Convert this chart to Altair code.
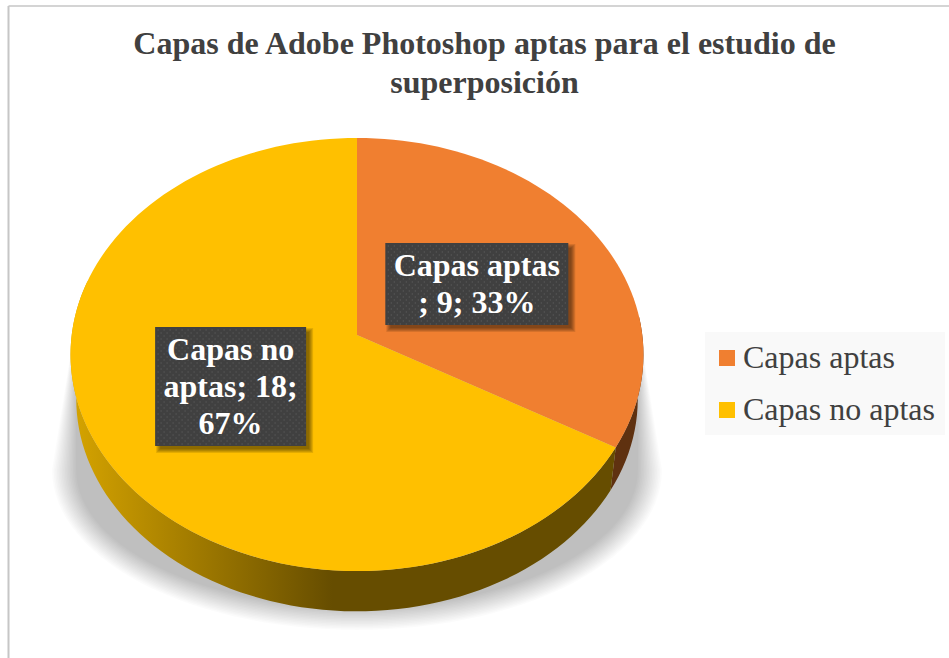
import math
import altair as alt
import pandas as pd

# Chart content
TITLE_LINES = ["Capas de Adobe Photoshop aptas para el estudio de", "superposición"]
CATEGORIES = ["Capas aptas", "Capas no aptas"]
VALUES = [9, 18]
PERCENTS = [33, 67]
LABEL_LINES = [["Capas aptas", "; 9; 33%"], ["Capas no", "aptas; 18;", "67%"]]
COLORS = ["#f07f30", "#ffc000"]

W, H = 949, 658

# Tilted-disc projection used for the pie surface and its lower rim
CX, CY = 357.0, 335.0
A, B, P = 285.3, 214.8, 0.0901
DEPTH = 45.0
RIM_SCALE = 0.98
LABEL_LINE_HEIGHT = 37


def project(angle, f=1.0, dy=0.0, s=1.0):
    """Clockwise angle from 12 o'clock and radius fraction to canvas units."""
    t = math.radians(angle)
    u, v = f * math.sin(t), -f * math.cos(t)
    w = 1 - P * v
    return CX + s * A * u / w, CY + dy + s * B * v / w


def arc_angles(a0, a1, step=2.0):
    n = max(2, int(abs(a1 - a0) / step))
    return [a0 + (a1 - a0) * k / n for k in range(n + 1)]


X = alt.X("x:Q", scale=alt.Scale(domain=[0, W], nice=False, zero=False), axis=None)
Y = alt.Y("y:Q", scale=alt.Scale(domain=[H, 0], nice=False, zero=False), axis=None)
X2, Y2 = alt.X2("x2:Q"), alt.Y2("y2:Q")

# Cumulative slice angles
total = sum(VALUES)
starts, running = [], 0.0
for v in VALUES:
    starts.append(running)
    running += 360.0 * v / total
ends = starts[1:] + [360.0]

# Top surface of each slice
rows = []
for cat, a0, a1 in zip(CATEGORIES, starts, ends):
    pts = [(CX, CY)] + [project(a) for a in arc_angles(a0, a1)]
    for i, (x, y) in enumerate(pts):
        rows.append({"cat": cat, "i": i, "x": x, "y": y})
slices = (
    alt.Chart(pd.DataFrame(rows))
    .mark_line(filled=True, strokeWidth=0, opacity=1)
    .encode(
        x=X,
        y=Y,
        order=alt.Order("i:Q"),
        color=alt.Color(
            "cat:N",
            scale=alt.Scale(domain=CATEGORIES, range=COLORS),
            legend=alt.Legend(
                title=None,
                orient="none",
                legendX=711,
                legendY=342,
                padding=0,
                symbolType="square",
                symbolSize=256,
                symbolStrokeWidth=0,
                symbolOpacity=1,
                labelFont="Liberation Serif",
                labelFontSize=32,
                labelColor="#404040",
                labelLimit=300,
                labelOffset=0,
                rowPadding=20,
            ),
        ),
    )
)

# Legend backing panel
legend_panel = (
    alt.Chart(pd.DataFrame({"x": [705], "x2": [945], "y": [332], "y2": [435]}))
    .mark_rect(color="#f9f9f9", strokeWidth=0)
    .encode(x=X, x2=X2, y=Y, y2=Y2)
)


def rim(a0, a1):
    """Band between the surface edge and the lower rim for an angle range."""
    top = [project(a) for a in arc_angles(a0, a1)]
    low = [project(a, dy=DEPTH, s=RIM_SCALE) for a in arc_angles(a1, a0)]
    pts = top + low
    return pd.DataFrame({"i": range(len(pts)), "x": [p[0] for p in pts], "y": [p[1] for p in pts]})


gold_side = (
    alt.Chart(rim(ends[0], 285))
    .mark_line(
        filled=True,
        strokeWidth=0,
        fill=alt.LinearGradient(
            gradient="linear",
            x1=1, x2=0, y1=0, y2=0,
            stops=[
                alt.GradientStop(offset=0, color="#664d00"),
                alt.GradientStop(offset=0.52, color="#664d00"),
                alt.GradientStop(offset=1, color="#d6a400"),
            ],
        ),
    )
    .encode(x=X, y=Y, order=alt.Order("i:Q"))
)
brown_side = (
    alt.Chart(rim(85, ends[0]))
    .mark_line(filled=True, strokeWidth=0, fill="#5f3110")
    .encode(x=X, y=Y, order=alt.Order("i:Q"))
)

# Soft drop shadow: stacked translucent outlines that shrink toward the pie
SHADOW_STEPS = 16
shadow_rows = []
for k in range(SHADOW_STEPS):
    t = k / (SHADOW_STEPS - 1)
    rx, ry = 305 - 24 * t, 160 - 22 * t
    pts = [(76.0, 320.0)]
    for deg in range(180, -1, -3):
        r = math.radians(deg)
        pts.append((CX + rx * math.cos(r), 470 + ry * math.sin(r)))
    pts.append((638.0, 320.0))
    for i, (x, y) in enumerate(pts):
        shadow_rows.append({"k": k, "i": i, "x": x, "y": y})
shadow = (
    alt.Chart(pd.DataFrame(shadow_rows))
    .mark_line(filled=True, strokeWidth=0, fill="#000000", fillOpacity=0.015)
    .encode(x=X, y=Y, detail="k:N", order=alt.Order("i:Q"))
)

# Data-label boxes, centred on each slice's mid-angle at half radius
BOX_SIZES = [(183, 82), (151, 119)]
BOX_NUDGE = [(-1, 1.5), (0, -3.5)]
boxes, box_shadows, dots, texts = [], [], [], []
for cat, a0, a1, (bw, bh), (nx, ny), lines in zip(
    CATEGORIES, starts, ends, BOX_SIZES, BOX_NUDGE, LABEL_LINES
):
    cx, cy = project((a0 + a1) / 2, f=0.5)
    cx, cy = cx + nx, cy + ny
    boxes.append({"x": cx - bw / 2, "x2": cx + bw / 2, "y": cy - bh / 2, "y2": cy + bh / 2})
    for g in range(5):
        box_shadows.append({
            "x": cx - bw / 2 + 4 - g + 1, "x2": cx + bw / 2 + 4 + g - 1,
            "y": cy - bh / 2 + 4 - g + 1, "y2": cy + bh / 2 + 4 + g - 1,
        })
    # Multi-line text is anchored on its first line
    texts.append({
        "x": cx,
        "y": cy - (len(lines) - 1) * LABEL_LINE_HEIGHT / 2 + 1,
        "label": "\n".join(lines),
    })
    row = 0
    yy = cy - bh / 2 + 3
    while yy < cy + bh / 2:
        xx = cx - bw / 2 + (3 if row % 2 == 0 else 6)
        while xx < cx + bw / 2:
            dots.append({"x": xx, "y": yy})
            xx += 6
        yy += 3
        row += 1

box_shadow_layer = (
    alt.Chart(pd.DataFrame(box_shadows))
    .mark_rect(color="#000000", opacity=0.11, strokeWidth=0)
    .encode(x=X, x2=X2, y=Y, y2=Y2)
)
box_layer = (
    alt.Chart(pd.DataFrame(boxes))
    .mark_rect(color="#404040", strokeWidth=0)
    .encode(x=X, x2=X2, y=Y, y2=Y2)
)
dot_layer = (
    alt.Chart(pd.DataFrame(dots))
    .mark_point(filled=True, size=2.5, color="#565656", opacity=1, strokeWidth=0)
    .encode(x=X, y=Y)
)
text_layer = (
    alt.Chart(pd.DataFrame(texts))
    .mark_text(
        font="Liberation Serif",
        fontWeight="bold",
        fontSize=32,
        color="#ffffff",
        lineBreak="\n",
        lineHeight=LABEL_LINE_HEIGHT,
        align="center",
        baseline="middle",
    )
    .encode(x=X, y=Y, text="label:N")
)

# Thin frame along the top and left edges
frame_v = alt.Chart(pd.DataFrame({"x": [8.5], "y": [6.0], "y2": [H]})).mark_rule(
    color="#c6c6c6", strokeWidth=2
).encode(x=X, y=Y, y2=Y2)
frame_h = alt.Chart(pd.DataFrame({"x": [8.5], "x2": [W], "y": [6.0]})).mark_rule(
    color="#c6c6c6", strokeWidth=1.5
).encode(x=X, x2=X2, y=Y)

chart = (
    alt.layer(
        frame_v, frame_h, legend_panel, shadow, brown_side, gold_side, slices,
        box_shadow_layer, box_layer, dot_layer, text_layer,
    )
    .properties(
        width=W,
        height=H,
        padding=0,
        autosize=alt.AutoSizeParams(type="none"),
        background="#ffffff",
        title=alt.TitleParams(
            text=TITLE_LINES,
            font="Liberation Serif",
            fontSize=32,
            fontWeight="bold",
            color="#404040",
            anchor="middle",
            frame="group",
            dx=10,
            dy=104,
            lineHeight=39,
        ),
    )
    .configure_view(stroke=None)
)

chart.save("out.html", embed_options={"renderer": "svg", "actions": False})
